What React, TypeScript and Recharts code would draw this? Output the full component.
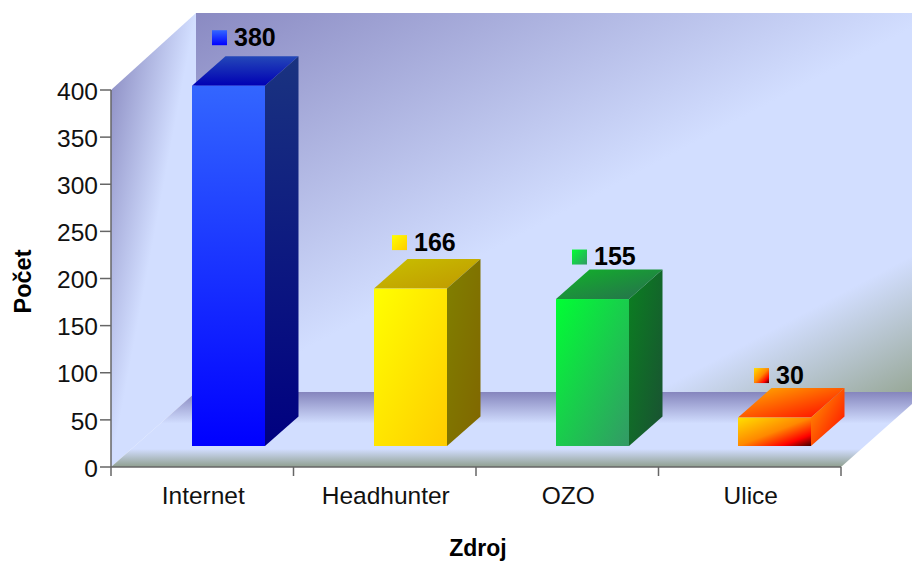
import { BarChart, Bar, XAxis, YAxis, LabelList, Customized } from "recharts";

const categories = ["Internet", "Headhunter", "OZO", "Ulice"];
const counts = [380, 166, 155, 30];
const yTicks = [0, 50, 100, 150, 200, 250, 300, 350, 400];

const chartData = categories.map((name, i) => ({ name, value: counts[i], idx: i }));

const FONT = "'Liberation Sans', Arial, sans-serif";
const AXIS_Y = 467;
const BAND = 730 / categories.length;
const DX = 26; // bars sit mid-depth on the floor
const DY = -21;
const DEPTH_X = 33.5;
const DEPTH_Y = -29.5;
const labelShift = [20, 18, 16, 16];
const labelLift = [11, 9, 5, 5];

function grad(id: string, stops: [number, string][], vertical = false) {
  return (
    <linearGradient id={id} x1="0" y1="0" x2={vertical ? "0" : "1"} y2="1" key={id}>
      {stops.map(([o, c]) => (
        <stop key={o} offset={o} stopColor={c} />
      ))}
    </linearGradient>
  );
}

function Walls() {
  return (
    <g>
      <defs>
        {grad("back", [[0, "#8a8ac2"], [0.52, "#d2deff"], [0.82, "#d2deff"], [1, "#98a898"]])}
        {grad("left", [[0, "#8484bc"], [0.5, "#d2deff"], [0.9, "#d2deff"], [1, "#a8b4b0"]])}
        {grad("floor", [[0, "#8585bd"], [0.42, "#d2deff"], [0.76, "#d2deff"], [1, "#8f9f8f"]], true)}

        {grad("front0", [[0, "#3366ff"], [1, "#0000ff"]], true)}
        {grad("side0", [[0, "#1a3380"], [1, "#000080"]], true)}
        {grad("top0", [[0, "#2448b8"], [1, "#0000b4"]], true)}

        {grad("front1", [[0, "#ffff00"], [1, "#ffcc00"]])}
        {grad("side1", [[0, "#808000"], [1, "#806600"]])}
        {grad("top1", [[0, "#c8c000"], [1, "#c09800"]])}

        {grad("front2", [[0, "#00ff33"], [1, "#339966"]])}
        {grad("side2", [[0, "#0a8020"], [1, "#1a5033"]])}
        {grad("top2", [[0, "#10b428"], [1, "#286c50"]])}

        {grad("front3", [[0, "#ffe000"], [0.5, "#ff8800"], [0.8, "#ff0000"], [1, "#400000"]])}
        {grad("side3", [[0, "#ffa000"], [1, "#ff0000"]])}
        {grad("top3", [[0, "#ffb400"], [1, "#ff0000"]])}
      </defs>
      <polygon points="196,13 912,13 912,392 196,392" fill="url(#back)" />
      <polygon points="111,90 196,13 196,392 111,467" fill="url(#left)" />
      <polygon points="111,467 196,392 912,392 912,404 841,467" fill="url(#floor)" />
    </g>
  );
}

// front face edges, slightly stretched as the 3D projection does
function faceBox(x: number, y: number, height: number, idx: number) {
  const l = Math.round(x + DX - idx * 0.5);
  const b = y + height + DY;
  const t = b - height * 1.006;
  return { l, t, b };
}

function Box3D(props: any) {
  const { x, y, width, height, idx } = props;
  const { l, t, b } = faceBox(x, y, height, idx);
  const r = l + width;
  return (
    <g>
      <polygon
        points={`${l},${t} ${l + DEPTH_X},${t + DEPTH_Y} ${r + DEPTH_X},${t + DEPTH_Y} ${r},${t}`}
        fill={`url(#top${idx})`}
      />
      <polygon
        points={`${r},${t} ${r + DEPTH_X},${t + DEPTH_Y} ${r + DEPTH_X},${b + DEPTH_Y} ${r},${b}`}
        fill={`url(#side${idx})`}
      />
      <rect x={l} y={t} width={width} height={b - t} fill={`url(#front${idx})`} />
    </g>
  );
}

function ValueLabel(props: any) {
  const { x, y, height, value, index } = props;
  const { l, t } = faceBox(x, y, height, index);
  const left = l + labelShift[index];
  const bottom = t + DEPTH_Y - labelLift[index];
  return (
    <g>
      <rect x={left} y={bottom - 15} width={15} height={15} fill={`url(#front${index})`} />
      <text x={left + 22} y={bottom + 0.5} fontFamily={FONT} fontSize={25} fontWeight="bold" fill="#000">
        {value}
      </text>
    </g>
  );
}

function CategoryTick(props: any) {
  const { x, y, payload, index } = props;
  const last = index === categories.length - 1;
  return (
    <g>
      <line x1={x - BAND / 2} x2={x - BAND / 2} y1={AXIS_Y} y2={AXIS_Y + 9} stroke="#666" strokeWidth={1.5} />
      {last && (
        <line x1={x + BAND / 2} x2={x + BAND / 2} y1={AXIS_Y} y2={AXIS_Y + 9} stroke="#666" strokeWidth={1.5} />
      )}
      <text x={x + 1} y={y + 24} textAnchor="middle" fontFamily={FONT} fontSize={24.5} fill="#111">
        {payload.value}
      </text>
    </g>
  );
}

export default function App() {
  return (
    <div style={{ position: "absolute", left: 0, top: 0, width: 912, height: 561 }}>
      <BarChart
        width={912}
        height={561}
        data={chartData}
        margin={{ top: 90, right: 71, left: 0, bottom: 0 }}
        barSize={73}
      >
        <Customized component={Walls} />
        <XAxis
          dataKey="name"
          height={94}
          tickSize={9}
          tickMargin={4}
          tickLine={false}
          stroke="#666"
          strokeWidth={1.5}
          tick={<CategoryTick />}
          interval={0}
          label={{
            value: "Zdroj",
            position: "insideBottom",
            offset: 5,
            dx: 2,
            style: { fontFamily: FONT, fontSize: 23, fontWeight: "bold", fill: "#000" },
          }}
        />
        <YAxis
          width={111}
          domain={[0, 400]}
          ticks={yTicks}
          tickSize={11}
          tickMargin={2}
          stroke="#666"
          strokeWidth={1.5}
          tick={{ fontFamily: FONT, fontSize: 24.5, fill: "#111", dy: 1 }}
          label={{
            value: "Počet",
            angle: -90,
            position: "insideLeft",
            offset: 23,
            dy: 3,
            style: { fontFamily: FONT, fontSize: 23.5, fontWeight: "bold", fill: "#000", textAnchor: "middle" },
          }}
        />
        <Bar dataKey="value" shape={<Box3D />} isAnimationActive={false}>
          <LabelList dataKey="value" content={<ValueLabel />} />
        </Bar>
      </BarChart>
    </div>
  );
}
